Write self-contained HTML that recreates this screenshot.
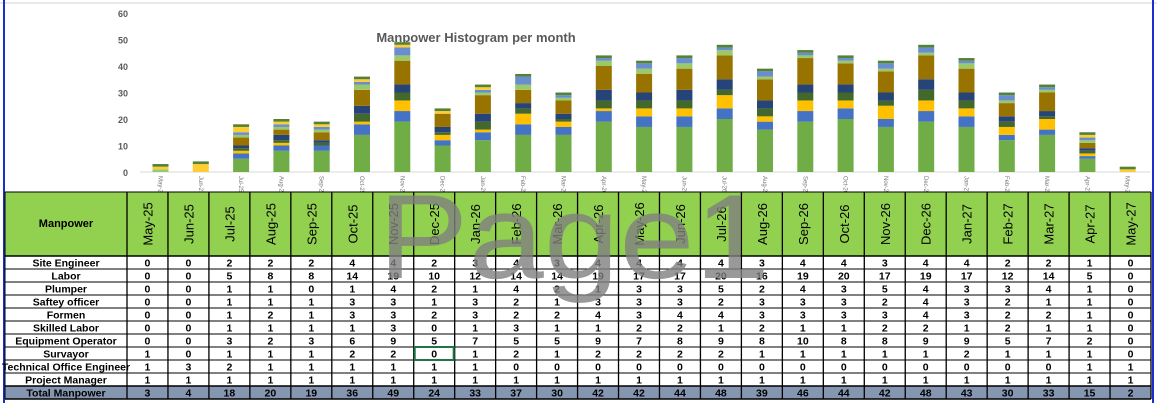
<!DOCTYPE html>
<html><head><meta charset="utf-8"><style>
body{margin:0;width:1157px;height:403px;overflow:hidden;background:#fff;font-family:"Liberation Sans",sans-serif;position:relative}
svg{position:absolute;left:0;top:0}
</style></head><body>
<svg id="s" width="1157" height="403">
<line x1="0" y1="3" x2="1157" y2="3" stroke="#d0d0d0"/>
<line x1="4" y1="0" x2="4" y2="403" stroke="#1a2fcf" stroke-width="2"/>
<line x1="1153" y1="0" x2="1153" y2="403" stroke="#1a2fcf" stroke-width="2"/>
<text x="476" y="42" text-anchor="middle" font-size="13" font-weight="bold" fill="#595959">Manpower Histogram per month</text>
<g id="chart"></g>
<g id="tbl"></g>
<text x="378" y="278" font-size="120" textLength="392" lengthAdjust="spacingAndGlyphs" fill="#808080" fill-opacity="0.8">Page1</text>
</svg>
<script>
const months=["May-25","Jun-25","Jul-25","Aug-25","Sep-25","Oct-25","Nov-25","Dec-25","Jan-26","Feb-26","Mar-26","Apr-26","May-26","Jun-26","Jul-26","Aug-26","Sep-26","Oct-26","Nov-26","Dec-26","Jan-27","Feb-27","Mar-27","Apr-27","May-27"];
const roles=["Site Engineer","Labor","Plumper","Saftey officer","Formen","Skilled Labor","Equipment Operator","Survayor","Technical Office Engineer","Project Manager"];
const siteEngineer=[0,0,2,2,2,4,4,2,3,4,3,4,4,4,4,3,4,4,3,4,4,2,2,1,0];
const labor=[0,0,5,8,8,14,19,10,12,14,14,19,17,17,20,16,19,20,17,19,17,12,14,5,0];
const plumper=[0,0,1,1,0,1,4,2,1,4,2,1,3,3,5,2,4,3,5,4,3,3,4,1,0];
const safety=[0,0,1,1,1,3,3,1,3,2,1,3,3,3,2,3,3,3,2,4,3,2,1,1,0];
const formen=[0,0,1,2,1,3,3,2,3,2,2,4,3,4,4,3,3,3,3,4,3,2,2,1,0];
const skilled=[0,0,1,1,1,1,3,0,1,3,1,1,2,2,1,2,1,1,2,2,1,2,1,1,0];
const equipment=[0,0,3,2,3,6,9,5,7,5,5,9,7,8,9,8,10,8,8,9,9,5,7,2,0];
const survayor=[1,0,1,1,1,2,2,0,1,2,1,2,2,2,2,1,1,1,1,1,2,1,1,1,0];
const techOffice=[1,3,2,1,1,1,1,1,1,0,0,0,0,0,0,0,0,0,0,0,0,0,0,1,1];
const projectManager=[1,1,1,1,1,1,1,1,1,1,1,1,1,1,1,1,1,1,1,1,1,1,1,1,1];
const totals=[3,4,18,20,19,36,49,24,33,37,30,42,42,44,48,39,46,44,42,48,43,30,33,15,2];
const yTicks=[0,10,20,30,40,50,60];
const rows=[siteEngineer,labor,plumper,safety,formen,skilled,equipment,survayor,techOffice,projectManager];
const NS="http://www.w3.org/2000/svg";
function el(tag,attrs,parent,txt){const e=document.createElementNS(NS,tag);for(const k in attrs)e.setAttribute(k,attrs[k]);if(txt!==undefined)e.textContent=txt;parent.appendChild(e);return e;}
const y0=172,pxPer=2.65;
const yS=v=>y0-v*pxPer;
const xS=i=>160.5+i*40.3;
const chart=document.getElementById('chart');
yTicks.forEach(t=>{const e=el('text',{x:128,y:yS(t)+4,'text-anchor':'end','font-size':9,'font-weight':'bold',fill:'#595959'},chart,t);

});
el('line',{x1:140,y1:y0,x2:1150,y2:y0,stroke:'#d9d9d9'},chart);
const stack=[[labor,'#70ad47'],[siteEngineer,'#4472c4'],[plumper,'#ffc000'],[safety,'#43682b'],[formen,'#264478'],[equipment,'#997300'],[survayor,'#9bc96a'],[skilled,'#698ed0'],[techOffice,'#ffcd33'],[projectManager,'#548235']];
months.forEach((m,i)=>{let acc=0;const cx=xS(i);
stack.forEach(([arr,c],k)=>{const v=arr[i];if(v<=0)return;
const r=el('rect',{x:cx-8,y:yS(acc+v),width:16,height:v*pxPer,fill:c},chart);


acc+=v;});
const t=el('text',{x:0,y:0,'font-size':6,fill:'#777',transform:`translate(${cx-2},176) rotate(90)`},chart,m);


});
const tbl=document.getElementById('tbl');
const L=5,C1=127,CW=40.96,HT=192,HB=256,RH=13;
el('rect',{x:L,y:HT,width:1151-L,height:HB-HT,fill:'#92d050'},tbl);
el('rect',{x:L,y:HB+10*RH,width:1151-L,height:RH,fill:'#8496b0'},tbl);
const h=el('text',{x:66,y:227,'text-anchor':'middle','font-size':11,'font-weight':'bold'},tbl,'Manpower');


months.forEach((m,i)=>{const cx=C1+CW*i+CW/2;
const t=el('text',{x:0,y:0,'text-anchor':'middle','font-size':13,transform:`translate(${cx+5},${(HT+HB)/2}) rotate(-90)`},tbl,m);

});
const allRows=rows.concat([totals]);const names=roles.concat(['Total Manpower']);
allRows.forEach((r,j)=>{const y=HB+j*RH;
const n=el('text',{x:66,y:y+10.5,'text-anchor':'middle','font-size':10.5,'font-weight':'bold'},tbl,names[j]);


r.forEach((v,i)=>{const c=el('text',{x:C1+CW*i+CW/2,y:y+10.5,'text-anchor':'middle','font-size':10.5,'font-weight':'bold'},tbl,v);

});});
for(let j=0;j<=11;j++){const y=HB+j*RH;el('line',{x1:L,y1:y,x2:1151,y2:y,stroke:'#000','stroke-width':j==0||j>=10?1.5:1},tbl);}
el('line',{x1:L,y1:HT,x2:1151,y2:HT,stroke:'#000'},tbl);
el('line',{x1:L,y1:HT,x2:L,y2:HB+11*RH,stroke:'#000'},tbl);
for(let i=0;i<=25;i++){const x=C1+CW*i;el('line',{x1:x,y1:HT,x2:x,y2:HB+11*RH,stroke:'#000','stroke-width':1.3},tbl);}
el('rect',{x:C1+CW*7+1,y:HB+7*RH,width:CW-2,height:RH,fill:'none',stroke:'#217346','stroke-width':2},tbl);
</script>
</body></html>
